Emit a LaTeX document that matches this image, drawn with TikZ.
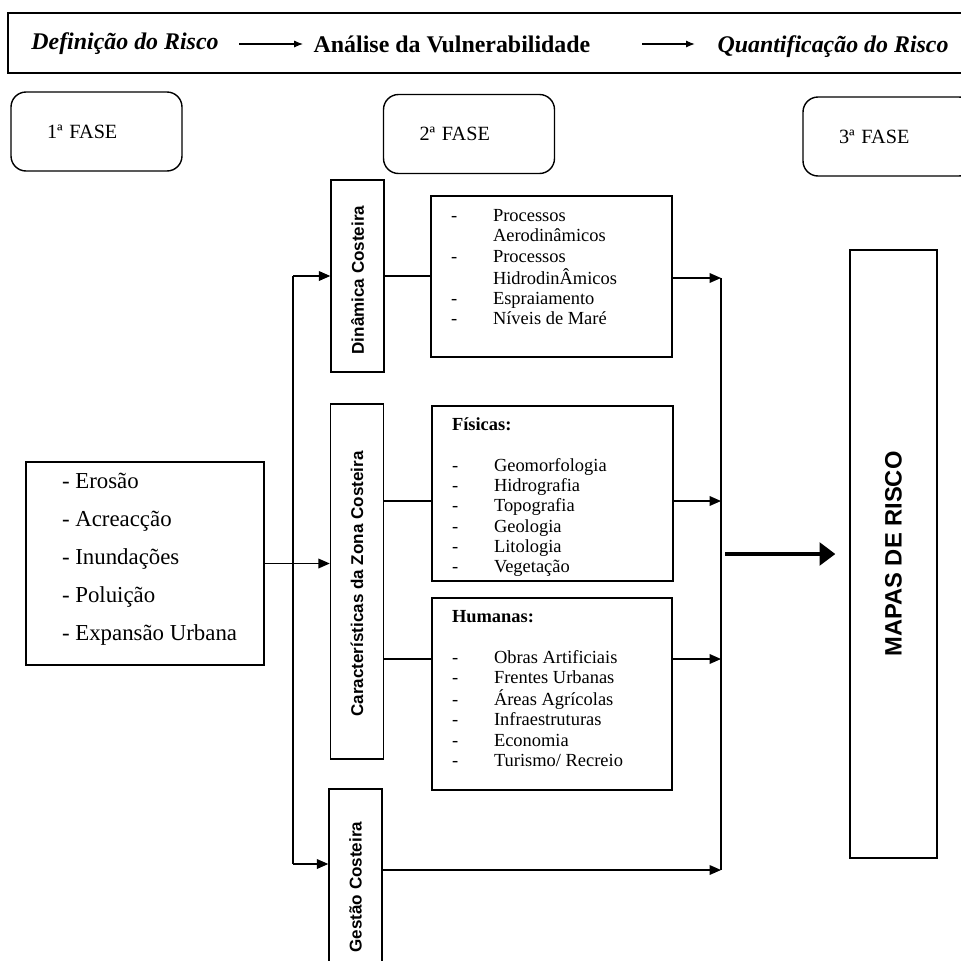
\documentclass[tikz,border=0pt]{standalone}
\usepackage{fontspec}
\setmainfont{Liberation Serif}
\setsansfont{Liberation Sans}
\usetikzlibrary{positioning,arrows.meta}

\begin{document}
\begin{tikzpicture}[x=0.02cm,y=-0.02cm,line width=0.8pt,
box/.style={draw,rectangle,inner sep=0pt},
fase/.style={draw,rounded corners=0.3cm,minimum width=3.42cm,minimum height=1.58cm,
    text width=1.98cm,inner xsep=0.72cm,align=left,font=\fontsize{11.5}{13}\selectfont},
vbox/.style={draw,rectangle,minimum width=1.06cm},
vtext/.style={rotate=90,inner sep=0pt,font=\sffamily\bfseries\fontsize{9.7}{11}\selectfont},
head/.style={inner sep=0pt,font=\fontsize{13.6}{15}\selectfont\bfseries},
list/.style={inner sep=0pt,anchor=north west,font=\fontsize{10.5}{11.6}\selectfont},
feed/.style={-{Triangle[length=6.5pt,width=5.5pt]}},
step arrow/.style={line width=0.6pt,-{Latex[length=5pt,width=4pt]}}]
\useasboundingbox (0,0) rectangle (961,961);

\node (banner) [draw,minimum width=19.34cm,minimum height=1.2cm] at (491.5,43) {};
\node (def) [head] at (125,44) {\itshape Definição do Risco};
\node (ana) [head] at (452,44) {Análise da Vulnerabilidade};
\node (quant) [head] at (833,47) {\itshape Quantificação do Risco};
\draw [step arrow,shorten <=0.4cm,shorten >=0.2cm] (def.east) -- (def.east -| ana.west);
\draw [step arrow,shorten <=1.02cm,shorten >=0.44cm] (ana.east) -- (ana.east -| quant.west);

\node (f1) [fase] at (96.5,131.5) {1ª FASE};
\node (f2) [fase] at (469,134) {2ª FASE};
\node (f3) [fase] at (888.5,136.5) {3ª FASE};

\node (ero) [box,minimum width=4.76cm,minimum height=4.06cm] at (145,563.5) {};
\node (erotxt) [list,font=\fontsize{13}{21.5}\selectfont,below right=0.01cm and 0.72cm of ero.north west]
    {\begin{tabular}{@{}l@{}}
    - Erosão\\
    - Acreacção\\
    - Inundações\\
    - Poluição\\
    - Expansão Urbana
    \end{tabular}};

\node (dyn) [vbox,minimum height=3.84cm] at (357.5,276) {};
\node (dyntxt) [vtext] at (357.5,280) {Dinâmica Costeira};
\node (car) [vbox,minimum height=7.1cm] at (357,581.5) {};
\node (cartxt) [vtext] at (357,584) {Características da Zona Costeira};
\node (ges) [vbox,minimum height=4cm] at (355.5,889) {};
\node (gestxt) [vtext] at (355.5,887) {Gestão Costeira};

\node (pro) [box,minimum width=4.82cm,minimum height=3.22cm] at (551.5,276.5) {};
\node (protxt) [list,below right=0.22cm and 0.4cm of pro.north west]
    {\begin{tabular}{@{}p{0.84cm}@{}l@{}}
    - & Processos\\
      & Aerodinâmicos\\
    - & Processos\\
      & HidrodinÂmicos\\
    - & Espraiamento\\
    - & Níveis de Maré
    \end{tabular}};

\node (fis) [box,minimum width=4.82cm,minimum height=3.5cm] at (552.5,493.5) {};
\node (fistxt) [list,below right=0.2cm and 0.4cm of fis.north west]
    {\begin{tabular}{@{}p{0.84cm}@{}l@{}}
    \multicolumn{2}{@{}l@{}}{\bfseries Físicas:}\\
    & \\
    - & Geomorfologia\\
    - & Hidrografia\\
    - & Topografia\\
    - & Geologia\\
    - & Litologia\\
    - & Vegetação
    \end{tabular}};

\node (hum) [box,minimum width=4.8cm,minimum height=3.84cm] at (552,694) {};
\node (humtxt) [list,below right=0.2cm and 0.4cm of hum.north west]
    {\begin{tabular}{@{}p{0.84cm}@{}l@{}}
    \multicolumn{2}{@{}l@{}}{\bfseries Humanas:}\\
    & \\
    - & Obras Artificiais\\
    - & Frentes Urbanas\\
    - & Áreas Agrícolas\\
    - & Infraestruturas\\
    - & Economia\\
    - & Turismo/ Recreio
    \end{tabular}};

\node (map) [box,minimum width=1.74cm,minimum height=12.16cm] at (893.5,554) {};
\node (maptxt) [vtext,font=\sffamily\bfseries\fontsize{13.5}{16}\selectfont] at (map) {MAPAS DE RISCO};

\coordinate (lbtop) at (293,276);
\coordinate (lbbot) at (293,864);
\draw (lbtop) -- (lbbot);
\draw [feed] (lbtop) -- (dyn.west);
\draw [feed] (ero.east) -- (ero.east -| car.west);
\draw [feed] (lbbot) -- (lbbot -| ges.west);

\coordinate (rbtop) at (721,278);
\coordinate (rbfis) at (721,501);
\coordinate (rbhum) at (721,659);
\coordinate (rbbot) at (721,870);
\draw (rbtop) -- (rbbot);
\draw (dyn.east) -- (dyn.east -| pro.west);
\draw [feed] (pro.east |- rbtop) -- (rbtop);
\draw (car.east |- rbfis) -- (fis.west |- rbfis);
\draw [feed] (fis.east |- rbfis) -- (rbfis);
\draw (car.east |- rbhum) -- (hum.west |- rbhum);
\draw [feed] (hum.east |- rbhum) -- (rbhum);
\draw [feed] (ges.east |- rbbot) -- (rbbot);

\draw [line width=1.9pt,-{Triangle[length=9pt,width=13pt]},shorten <=0.08cm,shorten >=0.28cm]
    (rbtop |- map.west) -- (map.west);
\end{tikzpicture}
\end{document}
